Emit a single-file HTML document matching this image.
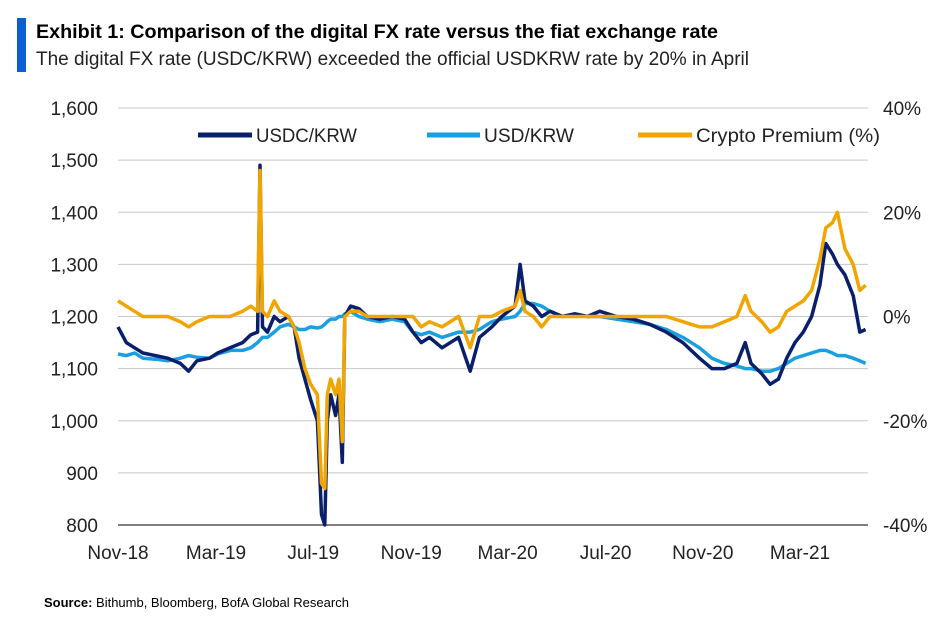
<!DOCTYPE html>
<html><head><meta charset="utf-8"><style>
body{margin:0;background:#fff;width:947px;height:616px;overflow:hidden;font-family:"Liberation Sans",sans-serif;}
svg text{font-family:"Liberation Sans",sans-serif;}
</style></head><body>
<svg width="947" height="616">
<rect x="17" y="18" width="9" height="54" fill="#0b5fd1"/>
<text x="36" y="38" font-size="19" font-weight="bold" fill="#000" textLength="682" lengthAdjust="spacingAndGlyphs">Exhibit 1: Comparison of the digital FX rate versus the fiat exchange rate</text>
<text x="36" y="65" font-size="19" fill="#222" textLength="713" lengthAdjust="spacingAndGlyphs">The digital FX rate (USDC/KRW) exceeded the official USDKRW rate by 20% in April</text>
<g id="grid"></g><g id="axes"></g><g id="series"></g>
<g>
<line x1="198" y1="135" x2="252" y2="135" stroke="#0a1f6b" stroke-width="5"/>
<text x="256" y="142" font-size="19" fill="#222" textLength="101" lengthAdjust="spacingAndGlyphs">USDC/KRW</text>
<line x1="427" y1="135" x2="480" y2="135" stroke="#1a9fe0" stroke-width="5"/>
<text x="484" y="142" font-size="19" fill="#222" textLength="90" lengthAdjust="spacingAndGlyphs">USD/KRW</text>
<line x1="638" y1="135" x2="692" y2="135" stroke="#f0a500" stroke-width="5"/>
<text x="696" y="142" font-size="19" fill="#222" textLength="184" lengthAdjust="spacingAndGlyphs">Crypto Premium (%)</text>
</g>
<text x="44" y="607" font-size="13" fill="#000"><tspan font-weight="bold">Source:</tspan>  Bithumb, Bloomberg, BofA Global Research</text>
</svg>
<script>
const days=[0,10,20,30,45,60,75,85,95,110,120,135,150,160,168,171,174,180,188,195,205,212,218,225,232,240,245,249,252,256,262,266,270,273,280,290,300,315,330,345,355,365,375,390,410,424,435,450,462,478,484,490,500,510,520,535,550,565,580,600,620,640,660,680,700,715,730,745,755,762,775,785,795,805,815,825,835,845,852,860,866,875,885,893,900];
const usdc=[1180,1150,1140,1130,1125,1120,1110,1095,1115,1120,1130,1140,1150,1165,1170,1490,1180,1170,1200,1190,1200,1180,1120,1080,1040,1000,820,800,1000,1050,1010,1050,920,1200,1220,1215,1200,1195,1200,1195,1170,1150,1160,1140,1160,1095,1160,1180,1200,1220,1300,1230,1220,1200,1210,1200,1205,1200,1210,1200,1195,1185,1170,1150,1120,1100,1100,1110,1150,1110,1090,1070,1080,1120,1150,1170,1200,1260,1340,1320,1300,1280,1240,1170,1175];
const usd=[1128,1125,1130,1120,1118,1115,1120,1125,1122,1120,1128,1135,1135,1140,1150,1155,1160,1160,1170,1180,1185,1180,1175,1175,1180,1178,1180,1185,1190,1195,1195,1200,1200,1205,1210,1200,1195,1190,1195,1190,1170,1165,1170,1160,1170,1170,1175,1190,1195,1200,1210,1225,1225,1220,1210,1200,1205,1200,1200,1195,1190,1185,1175,1160,1140,1120,1110,1105,1100,1100,1095,1095,1100,1110,1120,1125,1130,1135,1135,1130,1125,1125,1120,1115,1110];
const premium=[3,2,1,0,0,0,-1,-2,-1,0,0,0,1,2,1,28,1,0,3,1,0,-2,-5,-10,-13,-15,-32,-33,-15,-12,-15,-12,-24,0,1,1,0,0,0,0,0,-2,-1,-2,0,-6,0,0,1,2,5,1,0,-2,0,0,0,0,0,0,0,0,0,-1,-2,-2,-1,0,4,1,-1,-3,-2,1,2,3,5,11,17,18,20,13,10,5,6];
const leftTicks=[800,900,1000,1100,1200,1300,1400,1500,1600];
const rightTicks=[-40,-20,0,20,40];
const xLabels=["Nov-18","Mar-19","Jul-19","Nov-19","Mar-20","Jul-20","Nov-20","Mar-21"];
const xLabelDays=[0,118,235,353,469,587,704,821];
const NS="http://www.w3.org/2000/svg";
const X=d=>118+d*(682/821);
const YL=v=>525-(v-800)*(417/800);
const YR=v=>316.5-v*(417/80);
function mk(tag,attrs,parent){const e=document.createElementNS(NS,tag);for(const k in attrs)e.setAttribute(k,attrs[k]);parent.appendChild(e);return e;}
const grid=document.getElementById('grid'),axes=document.getElementById('axes'),ser=document.getElementById('series');
leftTicks.forEach(v=>{
 const l=mk('line',{x1:118,x2:868,y1:YL(v),y2:YL(v),stroke:v===800?'#555':'#c8c8c8','stroke-width':v===800?1.5:1},grid);
 
 
 const t=mk('text',{x:98,y:YL(v)+7,'font-size':19,'text-anchor':'end',fill:'#222'},axes);t.textContent=v.toLocaleString('en-US');
 
 
});
rightTicks.forEach(v=>{
 const t=mk('text',{x:883,y:YR(v)+7,'font-size':19,fill:'#222'},axes);t.textContent=v+'%';
 
 
});
xLabels.forEach((s,i)=>{
 const t=mk('text',{x:X(xLabelDays[i]),y:559,'font-size':19,'text-anchor':'middle',fill:'#222'},axes);t.textContent=s;
 
 
});
function line(vals,yf,color,name){
 const p=mk('polyline',{points:vals.map((v,i)=>X(days[i]).toFixed(1)+','+yf(v).toFixed(1)).join(' '),fill:'none',stroke:color,'stroke-width':3.5,'stroke-linejoin':'round'},ser);
 
 
}
line(usd,YL,'#1a9fe0','usd-krw-line');
line(usdc,YL,'#0a1f6b','usdc-krw-line');
line(premium,YR,'#f0a500','crypto-premium-line');
</script>
</body></html>
